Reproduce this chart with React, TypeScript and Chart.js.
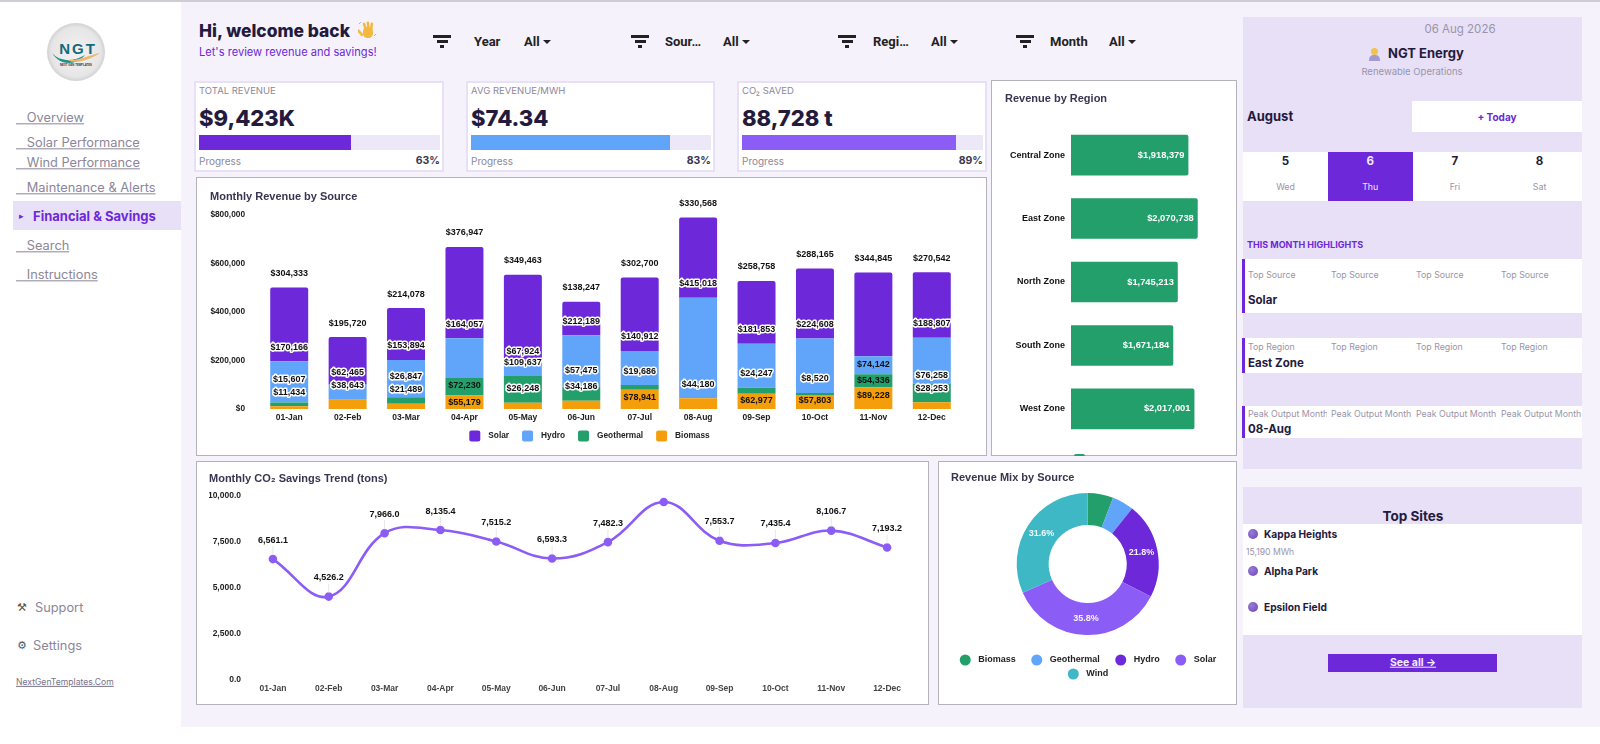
import React, { useEffect, useRef } from 'react';
import { Chart, registerables } from 'chart.js';
Chart.register(...registerables);

const months = ['01-Jan', '02-Feb', '03-Mar', '04-Apr', '05-May', '06-Jun', '07-Jul', '08-Aug', '09-Sep', '10-Oct', '11-Nov', '12-Dec'];
const solar = [304333, 195720, 214078, 376947, 349463, 138247, 302700, 330568, 258758, 288165, 344845, 270542];
const hydro = [170166, 62465, 153894, 164057, 67924, 212189, 140912, 415018, 181853, 224608, 74142, 188807];
const geothermal = [15607, 0, 26847, 72230, 109637, 57475, 19686, 0, 24247, 8520, 54336, 76258];
const biomass = [11434, 38643, 21489, 55179, 26248, 34186, 78941, 44180, 62977, 57803, 89228, 28253];

const regions = ['Central Zone', 'East Zone', 'North Zone', 'South Zone', 'West Zone'];
const regionRevenue = [1918379, 2070738, 1745213, 1671184, 2017001];

const co2Saved = [6561.1, 4526.2, 7966.0, 8135.4, 7515.2, 6593.3, 7482.3, 9659.5, 7553.7, 7435.4, 8106.7, 7193.2];

const mixSources = ['Biomass', 'Geothermal', 'Hydro', 'Solar', 'Wind'];
const mixRevenue = [548561, 464843, 2056035, 3373366, 2980195];

const topSites = ['Kappa Heights', 'Alpha Park', 'Epsilon Field'];

// label offset from the top of each stacked segment, in px
const hydroShift = [-14, -12, -14, -14, -8, -14, -14, -14, -14, -14, 8, -14];
const geoShift = [-23, 0, -21, 7, -14, -16, -14, 0, -14, -14, 6, -8];
const bioShift = [-14, -14, -14, 7, -14, -14, 8, -14, 7, 6, 8, -14];
const solarShift = months.map(() => -14);

const PURPLE = '#6d28d9';
const VIOLET = '#8b5cf6';
const BLUE = '#60a5fa';
const GREEN = '#239f6b';
const ORANGE = '#f59e0b';
const TEAL = '#3fb8c6';
const PANEL = '#e8e0f7';
const INK = '#241a3d';
const GREY = '#9a94a8';
const UI = 'Inter, sans-serif';
const ARIAL = '"Liberation Sans", Arial, sans-serif';

const money = (v: number) => '$' + Math.round(v).toLocaleString('en-US');
const oneDec = (v: number) => v.toLocaleString('en-US', { minimumFractionDigits: 1, maximumFractionDigits: 1 });

type LegendItem = { label: string; color: string };

// canvas legend, the built-in one ties row gap and item gap to the same padding
function drawLegend(ctx: CanvasRenderingContext2D, rows: LegendItem[][], cx: number, y: number, rowGap: number, round: boolean, size: number, gap: number, pad: number) {
  ctx.save();
  ctx.font = `bold ${size}px ${ARIAL}`;
  ctx.textBaseline = 'middle';
  ctx.textAlign = 'left';
  rows.forEach((row, r) => {
    const widths = row.map((it) => 11 + gap + ctx.measureText(it.label).width);
    const total = widths.reduce((a, b) => a + b, 0) + pad * (row.length - 1);
    let x = cx - total / 2;
    const rowY = y + r * rowGap;
    row.forEach((it, i) => {
      ctx.fillStyle = it.color;
      ctx.beginPath();
      if (round) ctx.arc(x + 5.5, rowY, 5.5, 0, Math.PI * 2);
      else ctx.roundRect(x, rowY - 5.5, 11, 11, 2);
      ctx.fill();
      ctx.fillStyle = '#222';
      ctx.fillText(it.label, x + 11 + gap, rowY);
      x += widths[i] + pad;
    });
  });
  ctx.restore();
}

const titleOpts = (text: string, top: number, bottom: number) => ({
  display: true,
  text,
  align: 'start',
  color: '#3a3550',
  font: { family: ARIAL, size: 11, weight: 'bold' },
  padding: { top: top + 0.6, bottom: bottom + 0.6 },
});

const shifts = [bioShift, geoShift, hydroShift, solarShift];

const stackLabels = {
  id: 'stackLabels',
  afterDatasetsDraw(chart: any) {
    const ctx = chart.ctx;
    ctx.save();
    ctx.font = `bold 9px ${ARIAL}`;
    ctx.textAlign = 'center';
    ctx.textBaseline = 'middle';
    ctx.lineJoin = 'round';
    chart.data.datasets.forEach((ds: any, d: number) => {
      chart.getDatasetMeta(d).data.forEach((bar: any, i: number) => {
        if (!ds.data[i]) return;
        const y = bar.y + shifts[d][i];
        const txt = money(ds.data[i]);
        if (shifts[d][i] < 0 && ds.label !== 'Solar') {
          ctx.strokeStyle = '#fff';
          ctx.lineWidth = 3;
          ctx.strokeText(txt, bar.x, y);
        }
        ctx.fillStyle = '#111';
        ctx.fillText(txt, bar.x, y);
      });
    });
    ctx.restore();
  },
  afterDraw(chart: any) {
    const rows = [[...chart.data.datasets].reverse().map((ds: any) => ({ label: ds.label, color: ds.backgroundColor }))];
    drawLegend(chart.ctx, rows, 393.5, 259, 0, false, 8.3, 8, 13);
  },
};

const regionLabels = {
  id: 'regionLabels',
  afterDatasetsDraw(chart: any) {
    const ctx = chart.ctx;
    ctx.save();
    ctx.font = `bold 9.3px ${ARIAL}`;
    ctx.textAlign = 'right';
    ctx.textBaseline = 'middle';
    ctx.fillStyle = '#fff';
    chart.getDatasetMeta(0).data.forEach((bar: any, i: number) => {
      ctx.fillText(money(regionRevenue[i]), bar.x - 4, bar.y);
    });
    ctx.restore();
  },
};

const pointLabels = {
  id: 'pointLabels',
  afterDatasetsDraw(chart: any) {
    const ctx = chart.ctx;
    ctx.save();
    ctx.font = `bold 9px ${ARIAL}`;
    ctx.textAlign = 'center';
    ctx.textBaseline = 'middle';
    chart.getDatasetMeta(0).data.forEach((pt: any, i: number) => {
      const y = pt.y - 19;
      // labels that would run above the plot are dropped, like the 08-Aug peak
      if (y < chart.chartArea.top) return;
      ctx.strokeStyle = '#e6e6e6';
      ctx.lineWidth = 1;
      ctx.beginPath();
      ctx.moveTo(pt.x, y + 6);
      ctx.lineTo(pt.x, pt.y - 4);
      ctx.stroke();
      ctx.fillStyle = '#111';
      ctx.fillText(oneDec(co2Saved[i]), pt.x, y);
    });
    ctx.restore();
  },
};

const mixLabels = {
  id: 'mixLabels',
  afterDatasetsDraw(chart: any) {
    const ctx = chart.ctx;
    const total = mixRevenue.reduce((a, b) => a + b, 0);
    ctx.save();
    ctx.font = `bold 9px ${ARIAL}`;
    ctx.textAlign = 'center';
    ctx.textBaseline = 'middle';
    ctx.fillStyle = 'rgba(255,255,255,0.92)';
    chart.getDatasetMeta(0).data.forEach((arc: any, i: number) => {
      const share = mixRevenue[i] / total;
      if (share < 0.1) return;
      const p = arc.getCenterPoint();
      ctx.fillText((share * 100).toFixed(1) + '%', p.x, p.y);
    });
    ctx.restore();
  },
  afterDraw(chart: any) {
    const colors = chart.data.datasets[0].backgroundColor;
    const items = mixSources.map((label, i) => ({ label, color: colors[i] }));
    drawLegend(chart.ctx, [items.slice(0, 4), items.slice(4)], 150, 199, 14, true, 9, 7.5, 15.5);
  },
};

const tickFont = { family: ARIAL, size: 8.5, weight: 'bold' };
const noGrid = { display: false, drawTicks: false };

const revenueConfig = {
  type: 'bar',
  data: {
    labels: months,
    datasets: [
      { label: 'Biomass', data: biomass, backgroundColor: ORANGE },
      { label: 'Geothermal', data: geothermal, backgroundColor: GREEN },
      { label: 'Hydro', data: hydro, backgroundColor: BLUE },
      { label: 'Solar', data: solar, backgroundColor: PURPLE, borderRadius: { topLeft: 2, topRight: 2 }, borderSkipped: false },
    ],
  },
  options: {
    responsive: false,
    animation: false,
    layout: { padding: { left: 14, right: 26, top: 10, bottom: 31 } },
    datasets: { bar: { barPercentage: 0.65, categoryPercentage: 1 } },
    plugins: { legend: { display: false }, tooltip: { enabled: false }, title: titleOpts('Monthly Revenue by Source', 3, 10.6) },
    scales: {
      x: {
        stacked: true,
        grid: noGrid,
        border: { display: false },
        ticks: { color: '#222', font: tickFont, padding: 4, maxRotation: 0, autoSkip: false },
        afterFit: (s: any) => { s.height = 16; },
      },
      y: {
        stacked: true,
        min: 0,
        max: 800000,
        grid: noGrid,
        border: { display: false },
        ticks: { stepSize: 200000, color: '#222', font: { ...tickFont, size: 8.3 }, padding: 15, callback: (v: any) => money(v) },
        afterFit: (s: any) => { s.width = 50; },
      },
    },
  },
  plugins: [stackLabels],
};

const regionConfig = {
  type: 'bar',
  data: { labels: regions, datasets: [{ data: regionRevenue, backgroundColor: GREEN, borderRadius: 2, borderSkipped: 'left' }] },
  options: {
    indexAxis: 'y',
    responsive: false,
    animation: false,
    layout: { padding: { left: 14, right: 13, top: 10, bottom: 4 } },
    datasets: { bar: { barPercentage: 0.64, categoryPercentage: 1 } },
    plugins: { legend: { display: false }, tooltip: { enabled: false }, title: titleOpts('Revenue by Region', 2, 17) },
    scales: {
      x: { display: false, min: 0, max: 2500000 },
      y: {
        grid: noGrid,
        border: { display: false },
        ticks: { color: '#111', font: { family: ARIAL, size: 9, weight: 'bold' }, padding: 6 },
        afterFit: (s: any) => { s.width = 66; },
      },
    },
  },
  plugins: [regionLabels],
};

const co2Config = {
  type: 'line',
  data: {
    labels: months,
    datasets: [{ data: co2Saved, borderColor: VIOLET, backgroundColor: VIOLET, borderWidth: 2.6, tension: 0.4, pointRadius: 3, clip: false }],
  },
  options: {
    responsive: false,
    animation: false,
    layout: { padding: { left: 13, right: 14, top: 9, bottom: 9 } },
    plugins: { legend: { display: false }, tooltip: { enabled: false }, title: titleOpts('Monthly CO₂ Savings Trend (tons)', 2, 9.3) },
    scales: {
      x: {
        offset: true,
        grid: noGrid,
        border: { display: false },
        ticks: { color: '#444', font: tickFont, padding: 4, maxRotation: 0, autoSkip: false },
        afterFit: (s: any) => { s.height = 16; },
      },
      y: {
        min: 0,
        max: 10000,
        grid: noGrid,
        border: { display: false },
        ticks: { stepSize: 2500, color: '#222', font: tickFont, padding: 4, callback: (v: any) => oneDec(v) },
        afterFit: (s: any) => { s.width = 36; },
      },
    },
  },
  plugins: [pointLabels],
};

const mixConfig = {
  type: 'doughnut',
  data: { labels: mixSources, datasets: [{ data: mixRevenue, backgroundColor: [GREEN, BLUE, PURPLE, VIOLET, TEAL], borderWidth: 0 }] },
  options: {
    responsive: false,
    animation: false,
    cutout: '55%',
    layout: { padding: { left: 13, right: 12.6, top: 8, bottom: 70 } },
    plugins: { legend: { display: false }, tooltip: { enabled: false }, title: titleOpts('Revenue Mix by Source', 2, 7.6) },
  },
  plugins: [mixLabels],
};

function ChartBox({ config, w, h }: { config: any; w: number; h: number }) {
  const canvasRef = useRef<HTMLCanvasElement>(null);
  useEffect(() => {
    if (!canvasRef.current) return;
    const chart = new Chart(canvasRef.current, config);
    return () => chart.destroy();
  }, [config]);
  return <canvas ref={canvasRef} width={w} height={h} style={{ position: 'absolute', left: 0, top: 0 }} />;
}

function Box({ x, y, w, h, bg, style, children }: any) {
  return <div style={{ position: 'absolute', left: x, top: y, width: w, height: h, background: bg, ...style }}>{children}</div>;
}

function Txt({ x, y, size = 12, weight = 400, color = INK, align = 'left', font = UI, style, children }: any) {
  const tx = align === 'center' ? '-50%' : align === 'right' ? '-100%' : '0';
  return (
    <div style={{ position: 'absolute', left: x, top: y, transform: `translate(${tx}, -50%)`, fontSize: size, fontWeight: weight, color, fontFamily: font, whiteSpace: 'nowrap', lineHeight: 1.2, ...style }}>
      {children}
    </div>
  );
}

function Card({ x, y, w, h, children }: any) {
  return (
    <Box x={x} y={y} w={w} h={h} bg="#fff" style={{ boxShadow: 'inset 0 0 0 1px #b4b2bd', overflow: 'hidden' }}>
      {children}
    </Box>
  );
}

function Kpi({ x, w, label, value, pct, color }: any) {
  return (
    <Box x={x} y={81} w={w} h={91} bg="#fff" style={{ boxShadow: `inset 0 0 0 2px ${PANEL}` }}>
      <Txt x={5} y={10} size={9.5} color="#8d8899">{label}</Txt>
      <Txt x={5} y={37} size={22} weight={800}>{value}</Txt>
      <Box x={5} y={54} w={w - 9} h={15} bg="#ece8f7" />
      <Box x={5} y={54} w={(w - 9) * pct / 100} h={15} bg={color} />
      <Txt x={5} y={80} size={10} color="#8d8899">Progress</Txt>
      <Txt x={w - 4} y={80} size={10.5} weight={700} color="#3a3550" align="right">{pct}%</Txt>
    </Box>
  );
}

function Filter({ iconX, label, labelX, allX }: any) {
  return (
    <>
      <Box x={iconX - 9} y={35} w={18} h={2.5} bg="#222" />
      <Box x={iconX - 5.5} y={40} w={11} h={2.5} bg="#222" />
      <Box x={iconX - 2} y={45} w={4} h={2.5} bg="#222" />
      <Txt x={labelX} y={42} size={13} weight={700} color="#222" font="Roboto, sans-serif">{label}</Txt>
      <Txt x={allX} y={42} size={13} weight={700} color="#222" font="Roboto, sans-serif">All</Txt>
      <div style={{ position: 'absolute', left: allX + 19, top: 40, width: 0, height: 0, borderLeft: '4px solid transparent', borderRight: '4px solid transparent', borderTop: '4px solid #222' }} />
    </>
  );
}

function NavLink({ y, children }: any) {
  return (
    <Txt x={16} y={y + 1} size={12.8} color="#8b8698" style={{ textDecoration: 'underline', whiteSpace: 'pre' }}>
      {'\u00a0\u00a0\u00a0' + children}
    </Txt>
  );
}

function Highlight({ y, h, label, value, labelY, valueY }: any) {
  const cols = [5, 88, 173, 258];
  return (
    <Box x={1243} y={y} w={339} h={h} bg="#fff">
      <Box x={-1} y={0} w={3} h={h} bg={PURPLE} />
      {cols.map((cx, i) => (
        <Box key={i} x={cx} y={0} w={i === 0 ? 79 : 84} h={h} style={{ overflow: 'hidden' }}>
          <Txt x={0} y={labelY} size={8.8} color={GREY}>{label}</Txt>
        </Box>
      ))}
      <Txt x={5} y={valueY} size={11.5} weight={700}>{value}</Txt>
    </Box>
  );
}

function Logo() {
  return (
    <svg style={{ position: 'absolute', left: 47, top: 23 }} width={58} height={58} viewBox="0 0 58 58">
      <defs>
        <radialGradient id="lg" cx="50%" cy="50%" r="50%">
          <stop offset="0%" stopColor="#f2f2f2" />
          <stop offset="85%" stopColor="#e6e6e6" />
          <stop offset="100%" stopColor="#d2d2d2" />
        </radialGradient>
      </defs>
      <circle cx={29} cy={29} r={29} fill="url(#lg)" />
      <text x={31} y={31} textAnchor="middle" fontFamily={ARIAL} fontWeight={700} fontSize={15} letterSpacing={2} fill="#14697c">NGT</text>
      <path d="M5 30 C14 40 28 38 38 32 C30 42 14 44 5 30Z" fill="#1f8f8c" />
      <path d="M20 37 C32 38 42 32 53 30 C44 36 30 42 20 37Z" fill="#e9b872" />
      <text x={29} y={43} textAnchor="middle" fontFamily={ARIAL} fontWeight={700} fontSize={2.8} fill="#333">NEXT GEN TEMPLATES</text>
    </svg>
  );
}

function Hand() {
  return (
    <svg style={{ position: 'absolute', left: 358, top: 21 }} width={19} height={19} viewBox="0 0 19 19">
      <g fill="#f4b83f">
        <rect x={5} y={6} width={10} height={11} rx={4.5} />
        <rect x={6} y={1.5} width={2.6} height={10} rx={1.3} transform="rotate(-18 7 7)" />
        <rect x={9} y={0.5} width={2.6} height={10} rx={1.3} transform="rotate(-6 10 6)" />
        <rect x={12} y={1.5} width={2.6} height={10} rx={1.3} transform="rotate(8 13 7)" />
        <rect x={1} y={8} width={2.6} height={8} rx={1.3} transform="rotate(-40 2 12)" />
      </g>
      <path d="M1 3 L3 1 M16 15 L18 13" stroke="#9bb7d8" strokeWidth={1} />
    </svg>
  );
}

function Person() {
  return (
    <svg style={{ position: 'absolute', left: 1368, top: 47 }} width={13} height={14} viewBox="0 0 13 14">
      <path d="M1 14 C1 9 3 8 6.5 8 C10 8 12 9 12 14Z" fill="#a59ad0" />
      <circle cx={6.5} cy={4.5} r={3.5} fill="#f2c14e" />
    </svg>
  );
}

export default function App() {
  useEffect(() => {
    document.body.style.margin = '0';
  }, []);
  return (
    <div style={{ position: 'relative', width: 1600, height: 744, overflow: 'hidden', background: '#fff', fontFamily: UI }}>
      <Box x={181} y={0} w={1419} h={727} bg="#f5f2fb" />
      <Box x={0} y={0} w={1600} h={1.5} bg="#cfcdd4" />

      {/* sidebar */}
      <Logo />
      <NavLink y={117}>Overview</NavLink>
      <NavLink y={142}>Solar Performance</NavLink>
      <NavLink y={162}>Wind Performance</NavLink>
      <NavLink y={187}>Maintenance &amp; Alerts</NavLink>
      <Box x={13} y={201} w={168} h={29} bg={PANEL} />
      <Txt x={19} y={216} size={9} color={PURPLE}>▸</Txt>
      <Txt x={33} y={217} size={13} weight={700} color={PURPLE}>Financial &amp; Savings</Txt>
      <NavLink y={245}>Search</NavLink>
      <NavLink y={274}>Instructions</NavLink>
      <Txt x={17} y={608} size={11} color="#555" font="DejaVu Sans">⚒</Txt>
      <Txt x={35} y={608} size={12.8} color="#8b8698">Support</Txt>
      <Txt x={17} y={646} size={11} color="#555" font="DejaVu Sans">⚙</Txt>
      <Txt x={33} y={646} size={12.8} color="#8b8698">Settings</Txt>
      <Txt x={16} y={682} size={8.6} color="#77728a" style={{ textDecoration: 'underline' }}>NextGenTemplates.Com</Txt>

      {/* header */}
      <Txt x={199} y={31} size={17.4} weight={800}>Hi, welcome back</Txt>
      <Hand />
      <Txt x={199} y={53} size={11.1} color={PURPLE}>Let's review revenue and savings!</Txt>
      <Filter iconX={442} label="Year" labelX={474} allX={524} />
      <Filter iconX={640} label="Sour…" labelX={665} allX={723} />
      <Filter iconX={847} label="Regi…" labelX={873} allX={931} />
      <Filter iconX={1025} label="Month" labelX={1050} allX={1109} />

      {/* kpi cards */}
      <Kpi x={194} w={250} label="TOTAL REVENUE" value="$9,423K" pct={63} color={PURPLE} />
      <Kpi x={466} w={249} label="AVG REVENUE/MWH" value="$74.34" pct={83} color={BLUE} />
      <Kpi x={737} w={250} label="CO₂ SAVED" value="88,728 t" pct={89} color={VIOLET} />

      {/* charts */}
      <Card x={196} y={177} w={791} h={279}>
        <ChartBox config={revenueConfig} w={791} h={279} />
      </Card>
      <Card x={991} y={80} w={246} h={376}>
        <ChartBox config={regionConfig} w={246} h={372} />
        <Box x={83} y={373.7} w={11} h={2.3} bg={GREEN} style={{ borderRadius: '2px 2px 0 0' }} />
      </Card>
      <Card x={196} y={461} w={733} h={244}>
        <ChartBox config={co2Config} w={733} h={244} />
      </Card>
      <Card x={938} y={461} w={299} h={244}>
        <ChartBox config={mixConfig} w={299} h={244} />
      </Card>

      {/* right panel */}
      <Box x={1243} y={17} w={339} h={452} bg={PANEL} />
      <Txt x={1460} y={30} size={11.5} color={GREY} align="center">06 Aug 2026</Txt>
      <Person />
      <Txt x={1388} y={54} size={13} weight={700}>NGT Energy</Txt>
      <Txt x={1412} y={72} size={9.5} color={GREY} align="center">Renewable Operations</Txt>
      <Txt x={1247} y={117} size={13} weight={700}>August</Txt>
      <Box x={1412} y={101} w={170} h={31} bg="#fff" />
      <Txt x={1497} y={117} size={10} weight={700} color={PURPLE} align="center">+ Today</Txt>
      <Box x={1243} y={152} w={339} h={49} bg="#fff" />
      <Box x={1328} y={152} w={84.5} h={49} bg={PURPLE} />
      {['5', '6', '7', '8'].map((d, i) => (
        <Txt key={d} x={1285.5 + i * 84.7} y={162} size={11.5} weight={700} color={i === 1 ? '#efe9ff' : INK} align="center">{d}</Txt>
      ))}
      {['Wed', 'Thu', 'Fri', 'Sat'].map((d, i) => (
        <Txt key={d} x={1285.5 + i * 84.7} y={187} size={8.8} color={i === 1 ? '#efe9ff' : GREY} align="center">{d}</Txt>
      ))}
      <Txt x={1247} y={245} size={9} weight={700} color={PURPLE}>THIS MONTH HIGHLIGHTS</Txt>
      <Highlight y={259} h={54} label="Top Source" value="Solar" labelY={16} valueY={42} />
      <Highlight y={338} h={35} label="Top Region" value="East Zone" labelY={9} valueY={26} />
      <Highlight y={406} h={32} label="Peak Output Month" value="08-Aug" labelY={8} valueY={24} />

      <Box x={1243} y={487} w={339} h={221} bg={PANEL} />
      <Txt x={1413} y={516} size={13.5} weight={700} align="center">Top Sites</Txt>
      <Box x={1243} y={524} w={339} h={111} bg="#fff" />
      {topSites.map((s, i) => (
        <React.Fragment key={s}>
          <div style={{ position: 'absolute', left: 1248, top: 529 + i * 36.5, width: 10, height: 10, borderRadius: 5, background: 'radial-gradient(circle at 35% 35%, #9a7ad8, #6a45b8)' }} />
          <Txt x={1264} y={534 + i * 36.5} size={10.2} weight={700}>{s}</Txt>
        </React.Fragment>
      ))}
      <Txt x={1246} y={552} size={8.6} color={GREY}>15,190 MWh</Txt>
      <Box x={1328} y={654} w={169} h={18} bg={PURPLE} />
      <Txt x={1413} y={663} size={10.5} weight={700} color="#f2ecff" align="center" style={{ textDecoration: 'underline' }}>See all →</Txt>
    </div>
  );
}
